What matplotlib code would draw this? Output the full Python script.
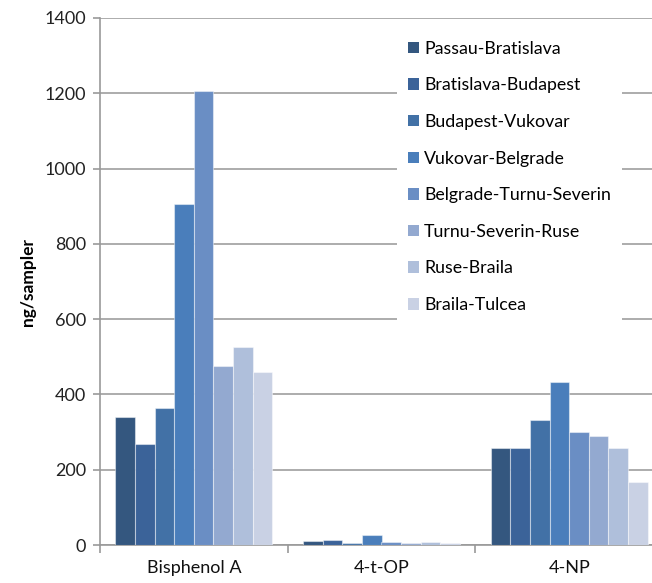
import matplotlib
matplotlib.use("Agg")
import matplotlib.pyplot as plt
import numpy as np
from matplotlib.patches import Patch

categories = ["Bisphenol A", "4-t-OP", "4-NP"]
series_names = ["Passau-Bratislava", "Bratislava-Budapest", "Budapest-Vukovar",
                "Vukovar-Belgrade", "Belgrade-Turnu-Severin", "Turnu-Severin-Ruse",
                "Ruse-Braila", "Braila-Tulcea"]
passau_bratislava = [339, 10, 258]
bratislava_budapest = [268, 13, 258]
budapest_vukovar = [365, 6, 333]
vukovar_belgrade = [905, 27, 432]
belgrade_turnu = [1205, 7, 300]
turnu_ruse = [475, 4, 290]
ruse_braila = [525, 7, 258]
braila_tulcea = [460, 4, 168]
series_values = [passau_bratislava, bratislava_budapest, budapest_vukovar,
                 vukovar_belgrade, belgrade_turnu, turnu_ruse, ruse_braila, braila_tulcea]
colors = ["#34577F", "#3B6399", "#4271A6", "#4A7EBB", "#6A8EC4", "#93A9D0", "#AFBFDB", "#C9D1E4"]
y_ticks = [0, 200, 400, 600, 800, 1000, 1200, 1400]

plt.rcParams['font.family'] = ['Lato', 'DejaVu Sans']

fig = plt.figure(figsize=(6.52, 5.83), dpi=100)
W, H = 652, 583
ax = fig.add_axes([100 / W, 1 - 545 / H, 563 / W, 527 / H])

x = np.arange(len(categories))
w = 0.1045
for i, (vals, c) in enumerate(zip(series_values, colors)):
    ax.bar(x + (i - 3.5) * w, vals, width=w, color=c, edgecolor=(1, 1, 1, 0.45),
           linewidth=0.8, zorder=3)

ax.set_xlim(-0.5, 2.5)
ax.set_ylim(0, 1400)
ax.set_yticks(y_ticks)
ax.set_yticklabels([str(t) for t in y_ticks], fontsize=13, color="#222222")
ax.yaxis.grid(True, color="#A6A6A6", linewidth=1.3, zorder=0)
ax.set_axisbelow(True)

ax.set_xticks(x)
ax.set_xticklabels(categories, fontsize=13, color="#111111")
ax.tick_params(axis='x', which='major', length=0, pad=11)
ax.set_xticks([-0.5, 0.5, 1.5], minor=True)
ax.tick_params(axis='x', which='minor', length=6, color="#999999", width=1.2, direction='out')
ax.tick_params(axis='y', length=5, color="#999999", width=1.2, pad=5)

for s in ['top', 'right']:
    ax.spines[s].set_visible(False)
for s in ['left', 'bottom']:
    ax.spines[s].set_color("#999999")
    ax.spines[s].set_linewidth(1.2)

ax.set_ylabel("ng/sampler", fontsize=12.5, fontweight='bold', labelpad=6)

handles = [Patch(facecolor=c, edgecolor='none') for c in colors]
leg = fig.legend(handles, series_names, loc='upper left',
                 bbox_to_anchor=(397 / W, 1 - 30 / H), bbox_transform=fig.transFigure,
                 frameon=True, facecolor='white', edgecolor='none', framealpha=1,
                 fontsize=12.8, labelspacing=1.16, handlelength=0.62, handleheight=0.62,
                 handletextpad=0.3, borderpad=0.6, borderaxespad=0)
leg.get_frame().set_boxstyle('square', pad=0)

fig.savefig("out.png", dpi=100)
